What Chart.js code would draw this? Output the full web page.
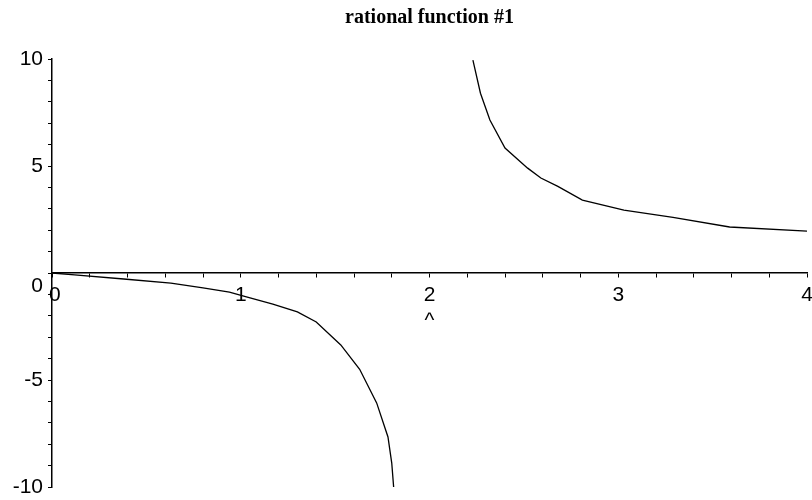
<!DOCTYPE html>
<html>
<head>
<meta charset="utf-8">
<title>rational function #1</title>
<script src="https://cdn.jsdelivr.net/npm/chart.js@4.4.1/dist/chart.umd.min.js"></script>
<style>
  html, body { margin: 0; padding: 0; background: #ffffff; }
  #wrap { width: 812px; height: 500px; }
</style>
</head>
<body>
<div id="wrap"><canvas id="c" width="812" height="500"></canvas></div>
<script>
// Sampled points of the curve, left of the pole (x < 2)
const leftX = [0, 0.12, 0.38, 0.63, 0.80, 0.94, 1.03, 1.17, 1.30, 1.40, 1.53, 1.63, 1.72, 1.78, 1.80, 1.81];
const leftY = [0, -0.09, -0.28, -0.47, -0.70, -0.89, -1.12, -1.45, -1.82, -2.29, -3.36, -4.5, -6.07, -7.66, -8.88, -10];

// Sampled points of the curve, right of the pole (x > 2)
const rightX = [2.23, 2.27, 2.32, 2.40, 2.52, 2.59, 2.68, 2.81, 3.03, 3.29, 3.59, 4.0];
const rightY = [9.95, 8.4, 7.15, 5.84, 4.9, 4.44, 4.05, 3.41, 2.94, 2.6, 2.15, 1.96];

// Axis labels
const xTickLabels = { 0: ' 0', 1: '1', 2: ['2', '^'], 3: '3', 4: '4' };
const yTickLabels = { '-10': '-10', '-5': '-5', 0: ['', '0'], 5: '5', 10: '10' };

const toPoints = (xs, ys) => xs.map((x, i) => ({ x: x, y: ys[i] }));
const isWhole = v => Math.abs(v - Math.round(v)) < 1e-6;

const curveStyle = {
  showLine: true,
  borderColor: '#000000',
  borderWidth: 1.3,
  pointRadius: 0,
  pointHoverRadius: 0,
  tension: 0,
  fill: false
};

new Chart(document.getElementById('c'), {
  type: 'scatter',
  data: {
    datasets: [
      Object.assign({ label: 'x < 2', data: toPoints(leftX, leftY) }, curveStyle),
      Object.assign({ label: 'x > 2', data: toPoints(rightX, rightY) }, curveStyle)
    ]
  },
  options: {
    responsive: false,
    animation: false,
    events: [],
    layout: { padding: { left: 0, right: 5, top: 0, bottom: 13 } },
    plugins: {
      legend: { display: false },
      tooltip: { enabled: false },
      title: {
        display: true,
        text: 'rational function #1',
        fullSize: false,
        color: '#000000',
        font: { family: '"Liberation Serif", "Times New Roman", serif', size: 20, weight: 'bold' },
        padding: { top: 6, bottom: 29 }
      }
    },
    scales: {
      x: {
        type: 'linear',
        position: { y: 0 },
        min: 0,
        max: 4,
        afterFit: s => { s.paddingLeft = 0; s.paddingRight = 0; },
        grid: { drawOnChartArea: false, drawTicks: true, tickLength: 4, tickColor: '#000000', tickWidth: 1 },
        border: { display: true, color: '#000000', width: 1.5 },
        ticks: {
          stepSize: 0.2,
          autoSkip: false,
          maxRotation: 0,
          padding: 6,
          color: '#000000',
          font: { family: '"Liberation Sans", Arial, sans-serif', size: 21, lineHeight: 1.2 },
          callback: v => (isWhole(v) && xTickLabels[Math.round(v)] !== undefined) ? xTickLabels[Math.round(v)] : ''
        }
      },
      y: {
        type: 'linear',
        position: 'left',
        min: -10,
        max: 10,
        afterFit: s => { s.width = 52; s.paddingTop = 0; s.paddingBottom = 0; },
        grid: { drawOnChartArea: false, drawTicks: true, tickLength: 4, tickColor: '#000000', tickWidth: 1 },
        border: { display: true, color: '#000000', width: 1.5 },
        ticks: {
          stepSize: 1,
          autoSkip: false,
          padding: 5,
          color: '#000000',
          font: { family: '"Liberation Sans", Arial, sans-serif', size: 21, lineHeight: 1.25 },
          callback: v => (isWhole(v) && yTickLabels[Math.round(v)] !== undefined) ? yTickLabels[Math.round(v)] : ''
        }
      }
    }
  }
});
</script>
</body>
</html>
